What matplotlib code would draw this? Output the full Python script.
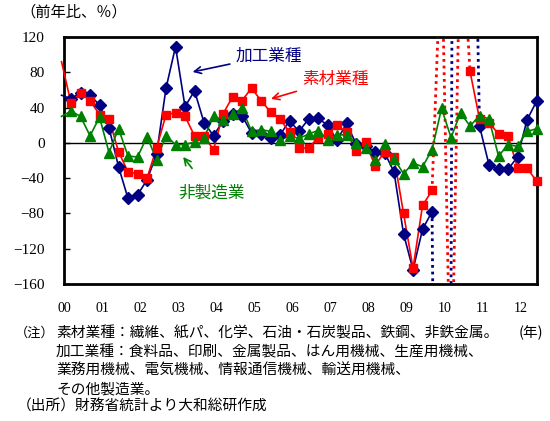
import numpy as np
import matplotlib
matplotlib.use("Agg")
import matplotlib.pyplot as plt

plt.rcParams['font.family'] = ['Noto Sans CJK JP', 'DejaVu Sans']

# quarterly index: -1 = 1999Q4, 0 = 2000Q1 ... 49 = 2012Q2
quarters = np.arange(-1, 50)

# 加工業種 (前年比, %)
kakou = [54, 50, 57, 54, 43, 17, -27, -63, -59, -42, -13,
         62, 109, 41, 59, 23, 8, 25, 33, 31, 11,
         10, 5, 9, 25, 13, 27, 28, 20, 3, 22,
         -1, -4, -10, -11, -33, -103, -144, -98, -78, -1200,
         -175, 3000, 580, 19, -25, -30, -30, -16, 26, 47]
# 素材業種
sozai = [92, 45, 57, 48, 32, 27, -10, -33, -35, -40, -6,
         32, 34, 30, 8, 8, -8, 33, 52, 48, 62,
         48, 35, 27, 12, -6, -6, 6, 10, 20, 12,
         -9, 1, -26, -10, -16, -80, -142, -71, -54, 230,
         -320, 260, 81, 27, 23, 10, 8, -28, -29, -43]
# 非製造業
hiseizou = [30, 36, 30, 8, 29, -11, 16, -15, -16, 7, -19,
            8, -2, -2, 1, 6, 30, 26, 33, 39, 13,
            15, 13, 3, 8, 5, 10, 14, 3, 9, 9,
            0, -6, -19, -1, -18, -35, -23, -27, -8, 39,
            6, 34, 19, 31, 27, -15, -2, -4, 13, 16]

years = ['00', '01', '02', '03', '04', '05', '06', '07', '08', '09', '10', '11', '12']
yticks = [-160, -120, -80, -40, 0, 40, 80, 120]
YMIN, YMAX = -160, 120

NAVY = '#000080'
RED = '#ff0000'
GREEN = '#008000'


def draw(ax, vals, color, marker, ms):
    y = np.asarray(vals, dtype=float)
    inside = (y >= YMIN) & (y <= YMAX)
    # solid line where both ends are on the chart
    ax.plot(quarters, np.where(inside, y, np.nan), color=color, lw=1.2,
            zorder=3, clip_on=False)
    # dotted line for segments that run off the chart
    for k in range(len(y) - 1):
        if not (inside[k] and inside[k + 1]):
            ax.plot(quarters[k:k + 2], y[k:k + 2], color=color, lw=2,
                    ls=(0, (1, 1.4)), zorder=3)
    show = inside & (quarters >= 0)
    ax.plot(quarters[show], y[show], ls='none', marker=marker, ms=ms,
            color=color, mec=color, clip_on=False, zorder=4)


fig = plt.figure(figsize=(5.5, 4.21), dpi=100)
ax = fig.add_axes([64 / 550, 1 - 284 / 421, 473 / 550, 247 / 421])

draw(ax, kakou, NAVY, 'D', 6)
draw(ax, sozai, RED, 's', 6)
draw(ax, hiseizou, GREEN, '^', 6.5)

ax.axhline(0, color='black', lw=1, zorder=2)
ax.set_xlim(-0.74, 49.05)
ax.set_ylim(YMIN, YMAX)

for s in ax.spines.values():
    s.set_linewidth(2)
    s.set_color('black')

ax.set_yticks(yticks)
ax.set_yticklabels([str(v).replace('-', '\u2212') for v in yticks],
                   fontfamily='Liberation Serif', fontsize=11)
ax.tick_params(axis='y', direction='in', length=4, width=1, pad=14)

year_pos = np.arange(len(years)) * 4 - 0.7
ax.set_xticks(year_pos)
ax.set_xticklabels(years, fontfamily='Liberation Serif', fontsize=10)
ax.tick_params(axis='x', length=0, pad=13)

# series labels with arrows
ax.annotate('加工業種', xy=(12.8, 80.4), xytext=(17.3, 98.6), color=NAVY,
            fontsize=12, va='center', ha='left',
            arrowprops=dict(arrowstyle='->', color=NAVY, lw=1.2,
                            shrinkA=2, shrinkB=0))
ax.annotate('素材業種', xy=(21.05, 49.9), xytext=(24.3, 71.3), color=RED,
            fontsize=12, va='center', ha='left',
            arrowprops=dict(arrowstyle='->', color=RED, lw=1.2,
                            shrinkA=2, shrinkB=0))
ax.annotate('非製造業', xy=(11.8, -16), xytext=(11.26, -56.6), color=GREEN,
            fontsize=12, va='center', ha='left',
            arrowprops=dict(arrowstyle='->', color=GREEN, lw=1.2,
                            shrinkA=12, shrinkB=0))

fig.text(20 / 550, 1 - 12 / 421, '（前年比、％）', fontsize=11, va='center', ha='left')
fig.text(519 / 550, 1 - 333 / 421, '(年)', fontsize=10.5, va='center', ha='left')

fig.text(15 / 550, 1 - 333 / 421, '（注）', fontsize=9.5, va='center', ha='left')
notes = [
    (56, 333, '素材業種：繊維、紙パ、化学、石油・石炭製品、鉄鋼、非鉄金属。'),
    (56, 352, '加工業種：食料品、印刷、金属製品、はん用機械、生産用機械、'),
    (56, 371, '業務用機械、電気機械、情報通信機械、輸送用機械、'),
    (56, 389, 'その他製造業。'),
    (17, 407, '（出所）財務省統計より大和総研作成'),
]
for px, py, txt in notes:
    fig.text(px / 550, 1 - py / 421, txt, fontsize=10.6, va='center', ha='left')

fig.savefig('out.png', dpi=100)
